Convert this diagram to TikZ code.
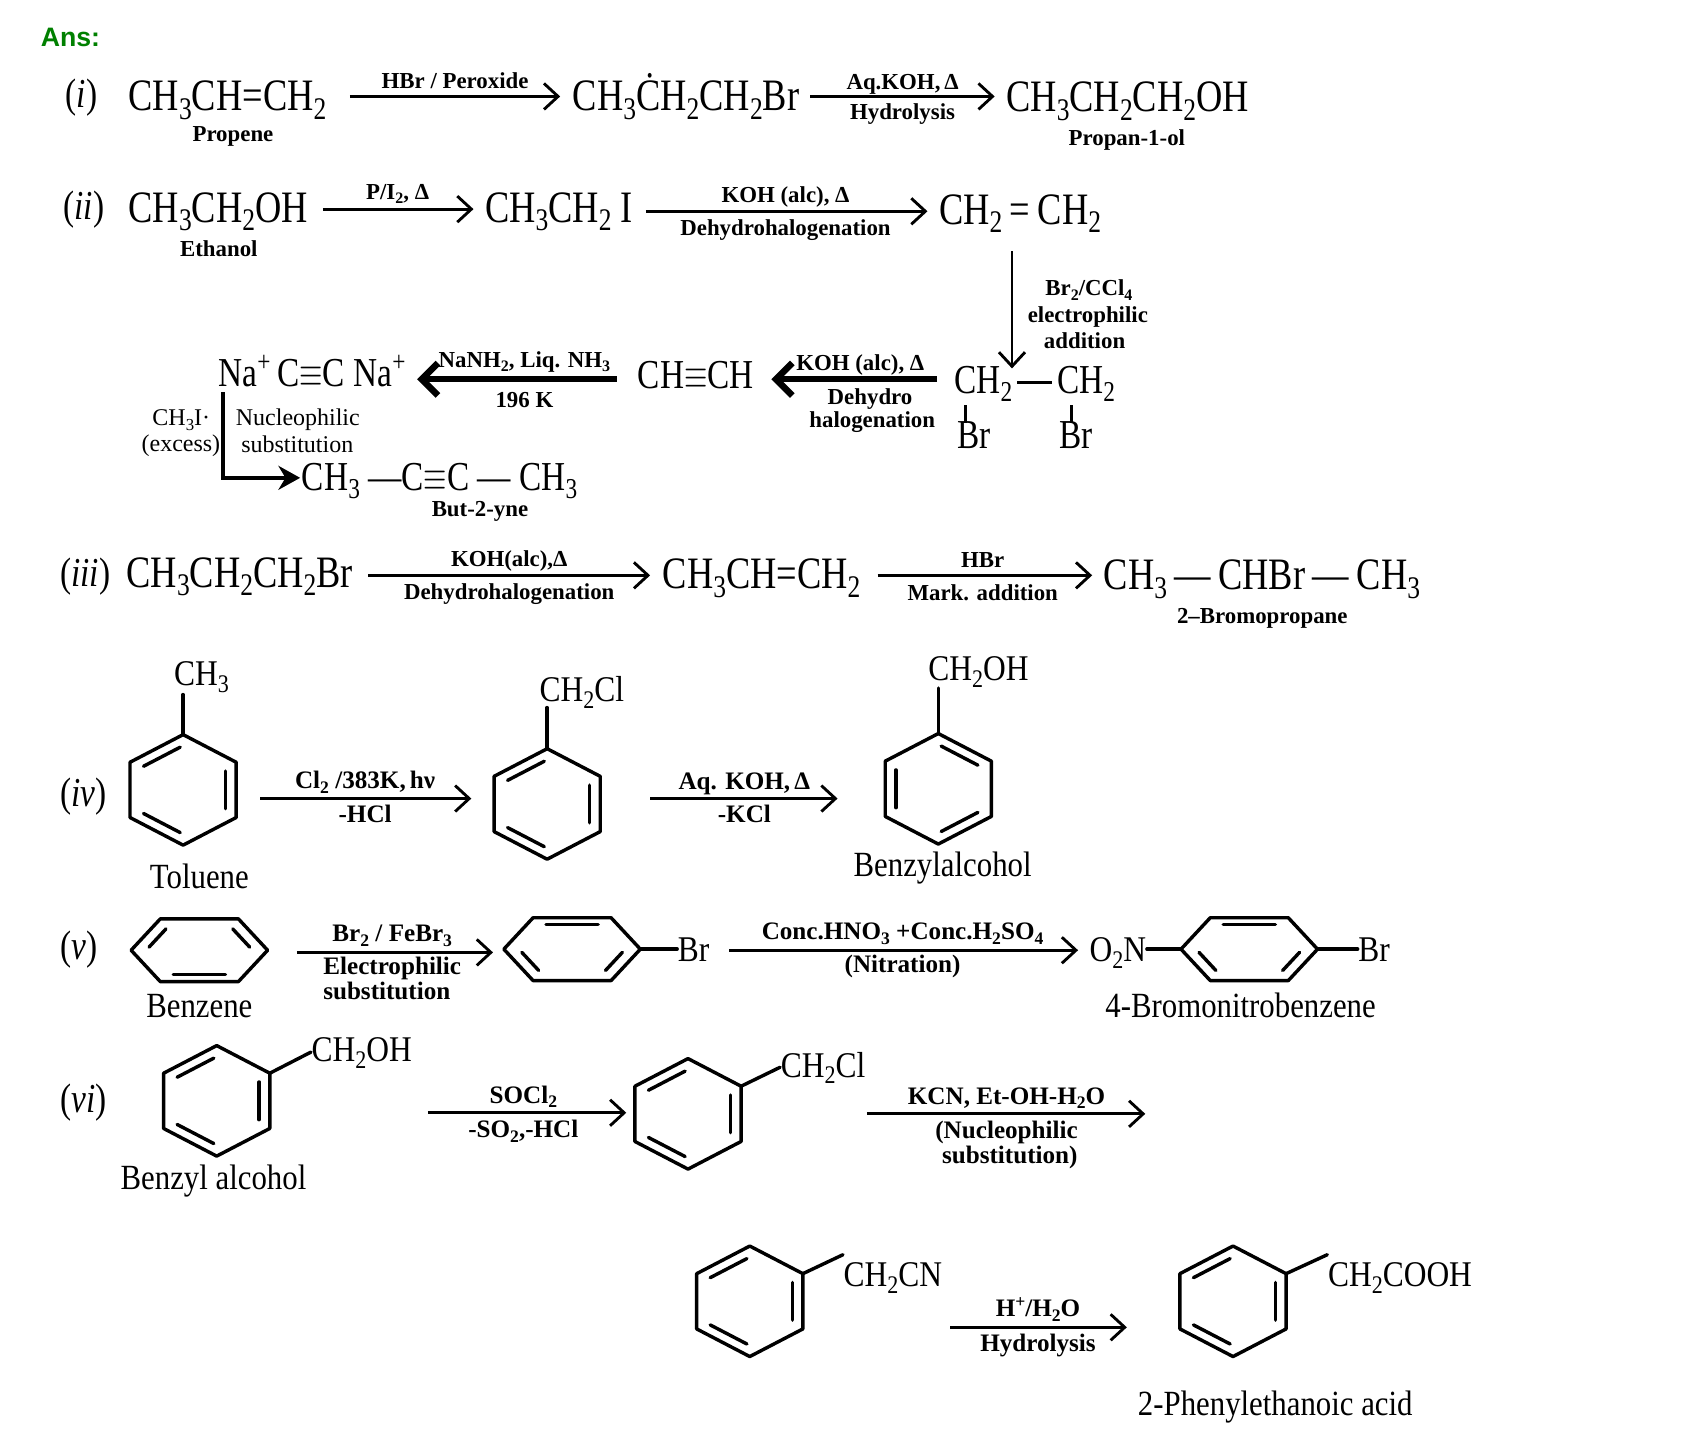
\documentclass[tikz,border=0pt]{standalone}
\usepackage{fontspec}
\setmainfont{Liberation Serif}[FakeStretch=0.81]
\newfontfamily\labfont{Liberation Serif}
\newfontfamily\namefont{Liberation Serif}[FakeStretch=0.87]
\newfontfamily\ansfont{Liberation Sans}
\usepackage{graphicx}
\usetikzlibrary{arrows.meta,calc}
\definecolor{ansgreen}{RGB}{0,128,0}
\newcommand\sbx[1]{\raisebox{-0.42ex}{\scalebox{0.7}{#1}}}
\newcommand\spx[1]{\raisebox{0.8ex}{\scalebox{0.7}{#1}}}
\newcommand\tb{\scalebox{0.72}[1]{$\equiv$}}
\newcommand\fmain{\fontsize{11.8}{13}\selectfont}
\newcommand\fmid{\fontsize{10.8}{12}\selectfont}
\newcommand\flab{\labfont\fontsize{6}{7}\selectfont\bfseries}
\newcommand\flabB{\labfont\fontsize{6.6}{7.5}\selectfont\bfseries}
\newcommand\fsmall{\labfont\fontsize{6.3}{7}\selectfont}
\newcommand\fname{\namefont\fontsize{9.3}{11}\selectfont}
\newcommand\fsubst{\namefont\fontsize{9.5}{11}\selectfont}
\newcommand\fnum{\fontsize{10.8}{12}\selectfont}
\tikzset{
  t/.style={inner sep=0pt, anchor=base west},
  tc/.style={inner sep=0pt, anchor=base},
  bond/.style={line width=0.9pt, line join=round, line cap=round},
  bondt/.style={line width=0.7pt},
  rxn/.style={line width=0.75pt, -{Straight Barb[length=1.3mm,width=2.4mm]}},
  rxnmed/.style={line width=1.1pt, -{Stealth[length=2mm,width=2.2mm]}},
  rxnthick/.style={line width=1.7pt, -{Straight Barb[length=1.5mm,width=3mm]}},
}
% pointy-top hexagon: name, cx, cy, doubled edges
\newcommand\hexU[4]{%
  \coordinate (#1c) at (#2,#3);
  \coordinate (#1-1) at (#2,#3-51);
  \coordinate (#1-2) at (#2+49,#3-25.5);
  \coordinate (#1-3) at (#2+49,#3+25.5);
  \coordinate (#1-4) at (#2,#3+51);
  \coordinate (#1-5) at (#2-49,#3+25.5);
  \coordinate (#1-6) at (#2-49,#3-25.5);
  \draw[bond] (#1-1)--(#1-2)--(#1-3)--(#1-4)--(#1-5)--(#1-6)--cycle;
  \foreach \p/\q in {#4}{\draw[bond,shorten <=0.3mm,shorten >=0.3mm] ($(#1c)!0.8!(#1-\p)$) -- ($(#1c)!0.8!(#1-\q)$);}
}
% flat hexagon (pointy left/right): name, cx, cy, doubled edges
\newcommand\hexF[4]{%
  \coordinate (#1c) at (#2,#3);
  \coordinate (#1-1) at (#2-63,#3);
  \coordinate (#1-2) at (#2-36,#3-29);
  \coordinate (#1-3) at (#2+36,#3-29);
  \coordinate (#1-4) at (#2+63,#3);
  \coordinate (#1-5) at (#2+36,#3+29);
  \coordinate (#1-6) at (#2-36,#3+29);
  \draw[bond] (#1-1)--(#1-2)--(#1-3)--(#1-4)--(#1-5)--(#1-6)--cycle;
  \foreach \p/\q in {#4}{\draw[bond,shorten <=0.4mm,shorten >=0.4mm] ($(#1c)!0.78!(#1-\p)$) -- ($(#1c)!0.78!(#1-\q)$);}
}
\begin{document}
\begin{tikzpicture}[x=0.1mm,y=-0.1mm]
\useasboundingbox (0,0) rectangle (1569,1325.4);
\fill[white] (0,0) rectangle (1569,1325.4);

\node[t,font=\ansfont\bfseries\fontsize{7}{8}\selectfont,text=ansgreen] (ans) at (37,43) {Ans:};

% ---------- (i)
\node[t,font=\fnum] (ri) at (60,99) {(\textit{i})};
\node[t,font=\fmain] (i1) at (118,102) {CH\sbx{3}CH{=}CH\sbx{2}};
\node[tc,font=\flab] (i1n) at (215,131) {Propene};
\coordinate (a1s) at (323,89); \coordinate (a1e) at (517,89);
\draw[rxn] (a1s) -- (a1e);
\node[tc,font=\flab] (a1t) at (420,82) {HBr / Peroxide};
\node[t,font=\fmain] (i2) at (528,102) {CH\sbx{3}\.{C}H\sbx{2}CH\sbx{2}Br};
\coordinate (a2s) at (748,89); \coordinate (a2e) at (918,89);
\draw[rxn] (a2s) -- (a2e);
\node[tc,font=\flab] (a2t) at (833,83) {Aq.KOH,\,Δ};
\node[tc,font=\flab] (a2b) at (833,110) {Hydrolysis};
\node[t,font=\fmain] (i3) at (928,103) {CH\sbx{3}CH\sbx{2}CH\sbx{2}OH};
\node[tc,font=\flab] (i3n) at (1040,134) {Propan-1-ol};

% ---------- (ii)
\node[t,font=\fnum] (rii) at (58,203) {(\textit{ii})};
\node[t,font=\fmain] (ii1) at (118,205) {CH\sbx{3}CH\sbx{2}OH};
\node[tc,font=\flab] (ii1n) at (202,237) {Ethanol};
\coordinate (b1s) at (298,193); \coordinate (b1e) at (437,193);
\draw[rxn] (b1s) -- (b1e);
\node[tc,font=\flab] (b1t) at (367,184) {P/I\sbx{2}, Δ};
\node[t,font=\fmain] (ii2) at (447,205) {CH\sbx{3}CH\sbx{2}\ I};
\coordinate (b2s) at (596,195); \coordinate (b2e) at (856,195);
\draw[rxn] (b2s) -- (b2e);
\node[tc,font=\flab] (b2t) at (725,187) {KOH (alc), Δ};
\node[tc,font=\flab] (b2b) at (725,217) {Dehydrohalogenation};
\node[t,font=\fmain] (ii3) at (866,207) {CH\sbx{2}\,=\,CH\sbx{2}};
\coordinate (b3s) at (934,232); \coordinate (b3e) at (934,340);
\draw[rxn] (b3s) -- (b3e);
\node[tc,font=\flab] (b3a) at (1005,273) {Br\sbx{2}/CCl\sbx{4}};
\node[tc,font=\flab] (b3b) at (1004,298) {electrophilic};
\node[tc,font=\flab] (b3c) at (1001,322) {addition};

% dibromoethane
\node[t,font=\fmid] (d1) at (880,363) {CH\sbx{2}};
\node[t,font=\fmid] (d2) at (975,363) {CH\sbx{2}};
\node[t,font=\fmid] (d1b) at (883,414) {Br};
\node[t,font=\fmid] (d2b) at (977,414) {Br};
\coordinate (dd1) at (939,353); \coordinate (dd2) at (971,353);
\draw[bondt] (dd1) -- (dd2);
\coordinate (dv1a) at (891,374); \coordinate (dv1b) at (891,390);
\coordinate (dv2a) at (989,374); \coordinate (dv2b) at (989,390);
\draw[bondt] (dv1a) -- (dv1b);
\draw[bondt] (dv2a) -- (dv2b);
\coordinate (c1s) at (865,350); \coordinate (c1e) at (712,350);
\draw[rxnthick] (c1s) -- (c1e);
\node[tc,font=\flab] (c1t) at (794,342) {KOH (alc), Δ};
\node[tc,font=\flab] (c1b) at (803,373) {Dehydro};
\node[tc,font=\flab] (c1c) at (805,395) {halogenation};
\node[t,font=\fmid] (eth) at (588,359) {CH\tb CH};
\coordinate (c2s) at (569,350); \coordinate (c2e) at (385,350);
\draw[rxnthick] (c2s) -- (c2e);
\node[tc,font=\flab] (c2t) at (484,339) {NaNH\sbx{2}, Liq. NH\sbx{3}};
\node[tc,font=\flab] (c2b) at (484,376) {196 K};
\node[t,font=\fmid] (acet) at (201,357) {Na\spx{+}\,C\tb C Na\spx{+}};
\coordinate (c3s) at (206,362); \coordinate (c3e) at (277,441);
\draw[rxnmed] (c3s) |- (c3e);
\node[t,font=\fsmall] (c3l1) at (140,393) {CH\sbx{3}I·};
\node[t,font=\fsmall] (c3l2) at (130,417) {(excess)};
\node[t,font=\fsmall] (c3r1) at (217,393) {Nucleophilic};
\node[t,font=\fsmall] (c3r2) at (222,418) {substitution};
\node[t,font=\fmid] (but) at (278,453) {CH\sbx{3} —C\tb C — CH\sbx{3}};
\node[tc,font=\flab] (butn) at (443,477) {But-2-yne};

% ---------- (iii)
\node[t,font=\fnum] (riii) at (55,541) {(\textit{iii})};
\node[t,font=\fmain] (iii1) at (116,542) {CH\sbx{3}CH\sbx{2}CH\sbx{2}Br};
\coordinate (e1s) at (340,531); \coordinate (e1e) at (600,531);
\draw[rxn] (e1s) -- (e1e);
\node[tc,font=\flab] (e1t) at (470,523) {KOH(alc),Δ};
\node[tc,font=\flab] (e1b) at (470,553) {Dehydrohalogenation};
\node[t,font=\fmain] (iii2) at (611,543) {CH\sbx{3}CH{=}CH\sbx{2}};
\coordinate (e2s) at (810,531); \coordinate (e2e) at (1008,531);
\draw[rxn] (e2s) -- (e2e);
\node[tc,font=\flab] (e2t) at (907,524) {HBr};
\node[tc,font=\flab] (e2b) at (907,554) {Mark. addition};
\node[t,font=\fmain] (iii3) at (1018,544) {CH\sbx{3}\,—\,CHBr\,—\,CH\sbx{3}};
\node[tc,font=\flab] (iii3n) at (1165,575) {2–Bromopropane};

% ---------- (iv)
\node[t,font=\fnum] (riv) at (55,744) {(\textit{iv})};
\hexU{tol}{169}{729}{6/1,2/3,4/5}
\coordinate (tolsub) at (169,641);
\draw[bond] (tol-1) -- (tolsub);
\node[tc,font=\fsubst] (tolt) at (186,633) {CH\sbx{3}};
\node[tc,font=\fname] (toln) at (184,820) {Toluene};
\coordinate (f1s) at (240,737); \coordinate (f1e) at (435,737);
\draw[rxn] (f1s) -- (f1e);
\node[tc,font=\flabB] (f1t) at (337,728) {Cl\sbx{2} /383K,\,hν};
\node[tc,font=\flabB] (f1b) at (337,759) {-HCl};
\hexU{bncl}{505}{742}{6/1,2/3,4/5}
\coordinate (bnclsub) at (505,653);
\draw[bond] (bncl-1) -- (bnclsub);
\node[tc,font=\fsubst] (bnclt) at (537,647) {CH\sbx{2}Cl};
\coordinate (f2s) at (600,737); \coordinate (f2e) at (773,737);
\draw[rxn] (f2s) -- (f2e);
\node[tc,font=\flabB] (f2t) at (687,729) {Aq. KOH,\,Δ};
\node[tc,font=\flabB] (f2b) at (687,759) {-KCl};
\hexU{bnoh}{866}{728}{1/2,3/4,5/6}
\coordinate (bnohsub) at (866,635);
\draw[bond] (bnoh-1) -- (bnohsub);
\node[tc,font=\fsubst] (bnoht) at (903,628) {CH\sbx{2}OH};
\node[tc,font=\fname] (bnohn) at (870,809) {Benzylalcohol};

% ---------- (v)
\node[t,font=\fnum] (rv) at (55,886) {(\textit{v})};
\hexF{bz}{184}{877}{1/2,3/4,5/6}
\node[tc,font=\fname] (bzn) at (184,939) {Benzene};
\coordinate (g1s) at (274,879); \coordinate (g1e) at (455,879);
\draw[rxn] (g1s) -- (g1e);
\node[tc,font=\flabB] (g1t) at (362,869) {Br\sbx{2} / FeBr\sbx{3}};
\node[tc,font=\flabB] (g1b) at (362,899) {Electrophilic};
\node[tc,font=\flabB] (g1c) at (357,922) {substitution};
\hexF{brb}{528}{876}{2/3,4/5,6/1}
\node[t,font=\fsubst] (brbr) at (625,887) {Br};
\draw[bond] (brb-4) -- (brbr.west |- brb-4);
\coordinate (g2s) at (673,877); \coordinate (g2e) at (995,877);
\draw[rxn] (g2s) -- (g2e);
\node[tc,font=\flabB] (g2t) at (833,867) {Conc.HNO\sbx{3} +Conc.H\sbx{2}SO\sbx{4}};
\node[tc,font=\flabB] (g2b) at (833,898) {(Nitration)};
\node[t,font=\fsubst] (no2) at (1005,887) {O\sbx{2}N};
\hexF{bnb}{1153}{876}{2/3,4/5,6/1}
\draw[bond] (no2.east |- bnb-1) -- (bnb-1);
\node[t,font=\fsubst] (bnbbr) at (1253,887) {Br};
\draw[bond] (bnb-4) -- (bnbbr.west |- bnb-4);
\node[tc,font=\fname] (bnbn) at (1145,939) {4-Bromonitrobenzene};

% ---------- (vi)
\node[t,font=\fnum] (rvi) at (55,1027) {(\textit{vi})};
\hexU{va}{200}{1016}{6/1,2/3,4/5}
\node[t,font=\fsubst] (vat) at (287,980) {CH\sbx{2}OH};
\draw[bond] (va-2) -- (vat.west |- 0,971);
\node[tc,font=\fname] (van) at (197,1098) {Benzyl alcohol};
\coordinate (h1s) at (395,1027); \coordinate (h1e) at (578,1027);
\draw[rxn] (h1s) -- (h1e);
\node[tc,font=\flabB] (h1t) at (483,1018) {SOCl\sbx{2}};
\node[tc,font=\flabB] (h1b) at (483,1050) {-SO\sbx{2},-HCl};
\hexU{vb}{635}{1028}{6/1,2/3,4/5}
\node[t,font=\fsubst] (vbt) at (720,994) {CH\sbx{2}Cl};
\draw[bond] (vb-2) -- (vbt.west |- 0,985);
\coordinate (h2s) at (800,1028); \coordinate (h2e) at (1057,1028);
\draw[rxn] (h2s) -- (h2e);
\node[tc,font=\flabB] (h2t) at (929,1019) {KCN, Et-OH-H\sbx{2}O};
\node[tc,font=\flabB] (h2b) at (929,1051) {(Nucleophilic};
\node[tc,font=\flabB] (h2c) at (932,1074) {substitution)};

% ---------- last row
\hexU{wa}{692}{1201}{6/1,2/3,4/5}
\node[t,font=\fsubst] (wat) at (778,1187) {CH\sbx{2}CN};
\draw[bond] (wa-2) -- (wat.west |- 0,1158);
\coordinate (k1s) at (877,1225); \coordinate (k1e) at (1040,1225);
\draw[rxn] (k1s) -- (k1e);
\node[tc,font=\flabB] (k1t) at (958,1215) {H\spx{+}/H\sbx{2}O};
\node[tc,font=\flabB] (k1b) at (958,1247) {Hydrolysis};
\hexU{wb}{1138}{1201}{6/1,2/3,4/5}
\node[t,font=\fsubst] (wbt) at (1225,1187) {CH\sbx{2}COOH};
\draw[bond] (wb-2) -- (wbt.west |- 0,1158);
\node[tc,font=\fname] (wbn) at (1177,1306) {2-Phenylethanoic acid};
\end{tikzpicture}
\end{document}
